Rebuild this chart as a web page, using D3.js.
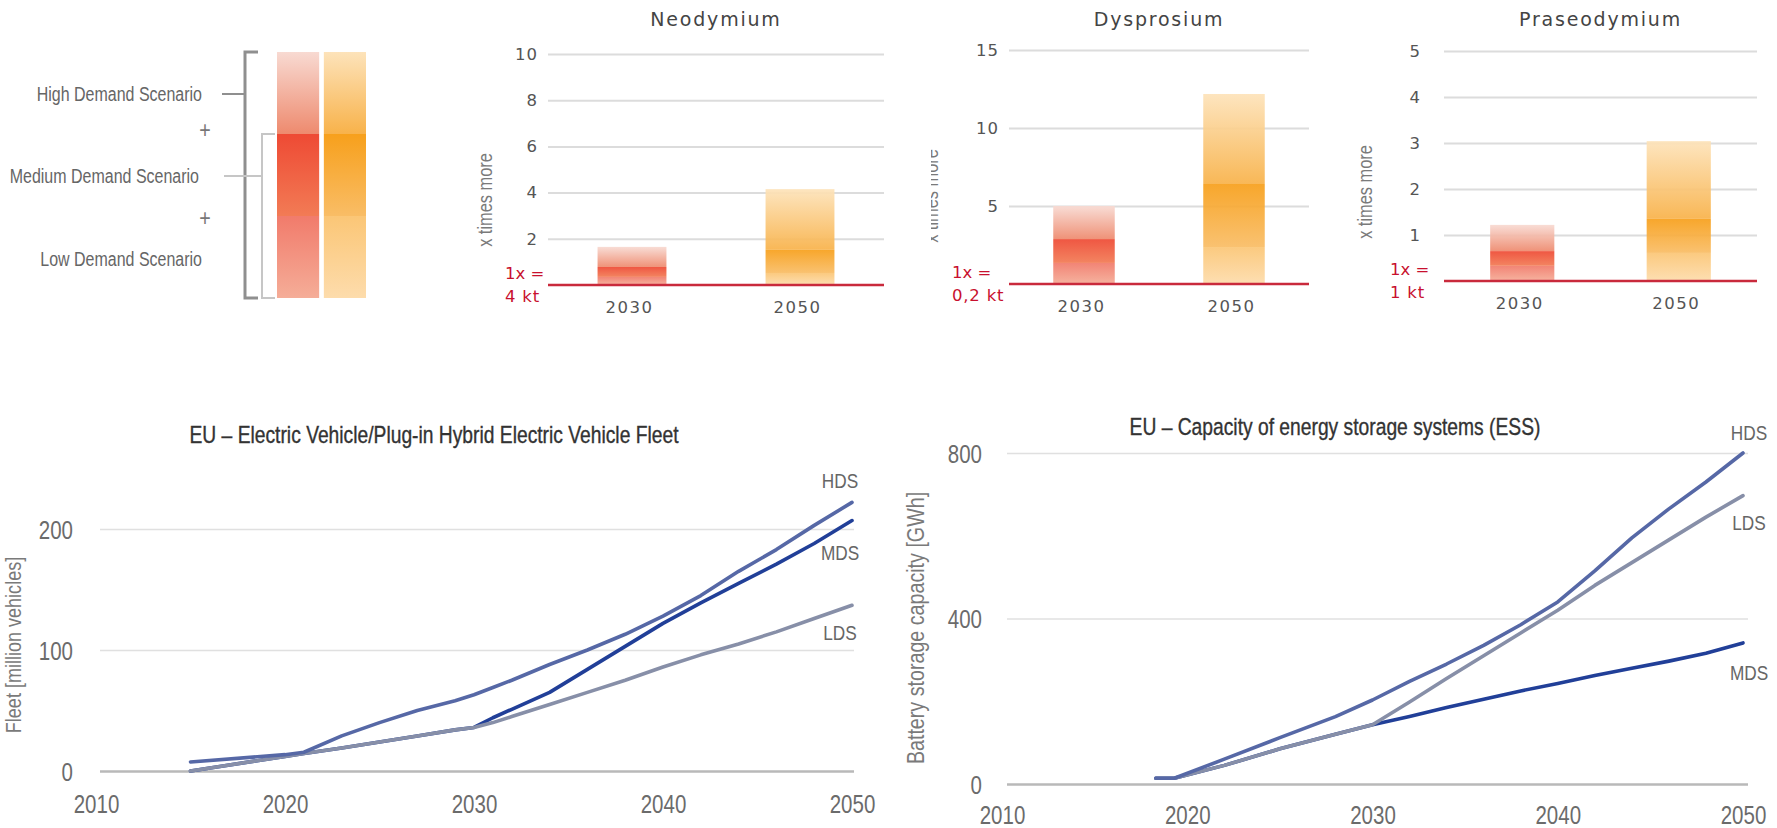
<!DOCTYPE html>
<html>
<head>
<meta charset="utf-8">
<script src="https://cdn.jsdelivr.net/npm/d3@7"></script>
<style>
  body { margin: 0; background: #fff; }
  svg { display: block; }
  .narrow { font-family: "Liberation Sans", Arial, sans-serif; }
  .wide { font-family: "DejaVu Sans", Verdana, sans-serif; }
</style>
</head>
<body>
<svg id="chart" width="1777" height="828"></svg>
<script>
const svg = d3.select('#chart');

// ---- data: rare earth demand bars ----
const scenarioLabels = ['High Demand Scenario', 'Medium Demand Scenario', 'Low Demand Scenario'];
const barYears = ['2030', '2050'];
const metals = ['Neodymium', 'Dysprosium', 'Praseodymium'];
const metalMax = [10, 15, 5];
const metalTicks = [[2, 4, 6, 8, 10], [5, 10, 15], [1, 2, 3, 4, 5]];
const metalBase = ['4 kt', '0,2 kt', '1 kt'];
// cumulative top of each scenario band, per metal: [2030, 2050]
const lowTop = [[0.35, 0.52], [1.35, 2.37], [0.33, 0.61]];
const medTop = [[0.78, 1.52], [2.88, 6.41], [0.65, 1.35]];
const highTop = [[1.65, 4.15], [5.0, 12.18], [1.22, 3.04]];

// ---- data: EV fleet (million vehicles) ----
const evYears = [2015, 2020, 2021, 2023, 2025, 2027, 2029, 2030, 2031, 2032, 2034, 2036, 2038, 2040, 2042, 2044, 2046, 2048, 2050];
const evHDS = [7.5, 13.5, 15.5, 29, 40, 50, 58, 63, 69, 75, 88, 100, 113, 128, 145, 165, 183, 203, 222];
const evMDS = [0, 12, 14.5, 19, 24, 29, 34, 36, 44, 51, 65, 84, 103, 122, 139, 155, 171, 188, 207];
const evLDS = [0, 12, 14.5, 19, 24, 29, 34, 36, 40, 45, 55, 65, 75, 86, 96, 105, 115, 126, 137];

// ---- data: energy storage capacity (GWh) ----
const essYears = [2018.3, 2019.3, 2022, 2025, 2028, 2030, 2032, 2034, 2036, 2038, 2040, 2042, 2044, 2046, 2048, 2050];
const essHDS = [14, 14, 60, 112, 163, 203, 248, 290, 335, 385, 440, 515, 595, 665, 730, 800];
const essMDS = [14, 14, 45, 85, 120, 143, 163, 185, 205, 225, 243, 262, 280, 297, 316, 341];
const essLDS = [14, 14, 45, 85, 120, 143, 198, 255, 310, 365, 420, 480, 535, 590, 645, 697];

const decadeTicks = [2010, 2020, 2030, 2040, 2050];

// narrow look: Liberation Sans squeezed to Arial Narrow proportions
const SQUEEZE = 0.82;
function ntext(parent, x, y, str, size, fill, anchor, rotate) {
  return parent.append('text').attr('class', 'narrow')
    .attr('transform', `translate(${x},${y})` + (rotate ? ` rotate(${rotate})` : '') + ` scale(${SQUEEZE},1)`)
    .attr('text-anchor', anchor || 'start')
    .attr('font-size', size).attr('fill', fill)
    .text(str);
}
// squeeze the labels an axis has made
function squeezeAxisText(sel) {
  sel.each(function () {
    const t = d3.select(this);
    const x = +t.attr('x') || 0, y = +t.attr('y') || 0;
    t.attr('class', 'narrow').attr('x', 0).attr('y', 0)
      .attr('transform', `translate(${x},${y}) scale(${SQUEEZE},1)`);
  });
}

// ---- gradients ----
const defs = svg.append('defs');
const gradients = {
  redHigh: ['#f8dad2', '#ee8a6e'],
  redMed: ['#ee4a34', '#f27b55'],
  redLow: ['#f17b6b', '#f5ad98'],
  orHigh: ['#fde3ba', '#f8b24a'],
  orMed: ['#f7a01c', '#f9bd66'],
  orLow: ['#fbc676', '#fddcac']
};
Object.entries(gradients).forEach(([id, c]) => {
  const g = defs.append('linearGradient').attr('id', id)
    .attr('x1', 0).attr('y1', 0).attr('x2', 0).attr('y2', 1);
  g.append('stop').attr('offset', '0%').attr('stop-color', c[0]);
  g.append('stop').attr('offset', '100%').attr('stop-color', c[1]);
});
const colourSets = [['redLow', 'redMed', 'redHigh'], ['orLow', 'orMed', 'orHigh']];

// ---- legend ----
const legend = svg.append('g');
const legendY = d3.scaleLinear().domain([0, 3]).range([298, 52]);
const legendX = d3.scaleBand().domain(barYears).range([277, 366]).paddingInner(0.1);

colourSets.forEach((set, i) => {
  set.forEach((grad, s) => {
    legend.append('rect')
      .attr('x', legendX(barYears[i]))
      .attr('width', legendX.bandwidth())
      .attr('y', legendY(s + 1))
      .attr('height', legendY(s) - legendY(s + 1))
      .attr('fill', `url(#${grad})`);
  });
});

// brackets
legend.append('path')
  .attr('d', `M258,${legendY(3)} H245 V${legendY(0)} H258`)
  .attr('fill', 'none').attr('stroke', '#8f8f8f').attr('stroke-width', 3);
legend.append('path')
  .attr('d', `M275,${legendY(2)} H262 V${legendY(0)} H275`)
  .attr('fill', 'none').attr('stroke', '#c6c6c6').attr('stroke-width', 2);
legend.append('line').attr('x1', 222).attr('x2', 245).attr('y1', 94).attr('y2', 94)
  .attr('stroke', '#8f8f8f').attr('stroke-width', 2);
legend.append('line').attr('x1', 224).attr('x2', 262).attr('y1', 176).attr('y2', 176)
  .attr('stroke', '#c6c6c6').attr('stroke-width', 2);

const legendTextY = [94, 176, 259];
scenarioLabels.forEach((label, i) => {
  ntext(legend, i === 1 ? 199 : 202, legendTextY[i] + 6.8, label, 19.5, '#666', 'end');
});
[130, 218].forEach(y => {
  ntext(legend, 205, y + 8, '+', 24, '#777', 'middle');
});

// ---- metal bar panels ----
const barPanels = [
  { left: 548, right: 884, bottom: 285, top: 54, tickEnd: 538, baseX: 505, axisX: 492, axisY: 200, clip: false },
  { left: 1009, right: 1309, bottom: 284, top: 50, tickEnd: 999, baseX: 952, axisX: 938, axisY: 196, clip: true },
  { left: 1444, right: 1757, bottom: 281, top: 51, tickEnd: 1421, baseX: 1390, axisX: 1372, axisY: 192, clip: false }
];

metals.forEach((metal, m) => {
  const p = barPanels[m];
  const g = svg.append('g');
  const y = d3.scaleLinear().domain([0, metalMax[m]]).range([p.bottom, p.top]);
  const x = d3.scalePoint().domain(barYears).range([p.left, p.right]).padding(0.5);
  const barW = x.step() * 0.41;

  // gridlines + tick labels
  const yAxis = d3.axisLeft(y).tickValues(metalTicks[m]).tickFormat(d3.format('d'))
    .tickSize(-(p.right - p.left)).tickPadding(p.left - p.tickEnd);
  const ga = g.append('g').attr('transform', `translate(${p.left},0)`).call(yAxis);
  ga.select('.domain').remove();
  ga.selectAll('line').attr('stroke', '#dcdcdc').attr('stroke-width', 2);
  ga.selectAll('text').attr('class', 'wide').attr('font-size', 16.5)
    .attr('letter-spacing', 1).attr('fill', '#555');

  // stacked scenario bands
  barYears.forEach((yr, i) => {
    const bounds = [0, lowTop[m][i], medTop[m][i], highTop[m][i]];
    colourSets[i].forEach((grad, s) => {
      g.append('rect')
        .attr('x', x(yr) - barW / 2).attr('width', barW)
        .attr('y', y(bounds[s + 1]))
        .attr('height', y(bounds[s]) - y(bounds[s + 1]))
        .attr('fill', `url(#${grad})`)
        .attr('opacity', 0.93);
    });
  });

  // red baseline
  g.append('line').attr('x1', p.left).attr('x2', p.right)
    .attr('y1', y(0)).attr('y2', y(0))
    .attr('stroke', '#c92a3c').attr('stroke-width', 2.5);

  // x labels
  const xAxis = d3.axisBottom(x).tickSize(0).tickPadding(0);
  const gx = g.append('g').attr('transform', `translate(-3,${p.bottom + 22})`).call(xAxis);
  gx.select('.domain').remove();
  gx.selectAll('text').attr('class', 'wide').attr('font-size', 16.5)
    .attr('letter-spacing', 1.5).attr('fill', '#555').attr('dy', '0.35em');

  // title
  g.append('text').attr('class', 'wide')
    .attr('x', (p.left + p.right) / 2).attr('y', 26)
    .attr('text-anchor', 'middle').attr('font-size', 19).attr('letter-spacing', 1.8)
    .attr('fill', '#444').text(metal);

  // 1x = base amount
  g.append('text').attr('class', 'wide').attr('x', p.baseX).attr('y', p.bottom - 12)
    .attr('dy', '0.35em').attr('font-size', 16.5).attr('fill', '#c8102e').text('1x =');
  g.append('text').attr('class', 'wide').attr('x', p.baseX).attr('y', p.bottom + 11)
    .attr('dy', '0.35em').attr('font-size', 16.5).attr('letter-spacing', 0.8)
    .attr('fill', '#c8102e').text(metalBase[m]);

  // axis title (the Dysprosium one is cut in the source)
  const holder = g.append('g');
  ntext(holder, p.axisX, p.axisY, 'x times more', 20, '#7a7a7a', 'middle', -90);
  if (p.clip) {
    defs.append('clipPath').attr('id', 'dyClip')
      .append('rect').attr('x', p.axisX - 7).attr('y', 0).attr('width', 40).attr('height', 400);
    holder.attr('clip-path', 'url(#dyClip)');
  }
});

// ---- line charts ----
const lineColours = { HDS: '#5668a6', MDS: '#213f98', LDS: '#878fa8' };

const linePanels = [
  {
    title: 'EU – Electric Vehicle/Plug-in Hybrid Electric Vehicle Fleet',
    yTitle: 'Fleet [million vehicles]', yTitleSize: 22,
    years: evYears, series: { MDS: evMDS, LDS: evLDS, HDS: evHDS },
    yMax: 200, yTicks: [0, 100, 200],
    xRange: [96, 852], yRange: [771, 529], gridL: 100, gridR: 854, tickEnd: 73,
    xLabelY: 813, titleX: 434, titleY: 443, yTitleX: 21, yTitleY: 645,
    labelX: 840, labelY: { HDS: 480, MDS: 552, LDS: 632 }
  },
  {
    title: 'EU – Capacity of energy storage systems (ESS)',
    yTitle: 'Battery storage capacity [GWh]', yTitleSize: 24,
    years: essYears, series: { MDS: essMDS, LDS: essLDS, HDS: essHDS },
    yMax: 800, yTicks: [0, 400, 800],
    xRange: [1002, 1743], yRange: [784, 453], gridL: 1007, gridR: 1748, tickEnd: 982,
    xLabelY: 824, titleX: 1335, titleY: 435, yTitleX: 924, yTitleY: 628,
    labelX: 1749, labelY: { HDS: 432, LDS: 522, MDS: 672 }
  }
];

linePanels.forEach(p => {
  const g = svg.append('g');
  const x = d3.scaleLinear().domain([2010, 2050]).range(p.xRange);
  const y = d3.scaleLinear().domain([0, p.yMax]).range(p.yRange);

  const yAxis = d3.axisLeft(y).tickValues(p.yTicks)
    .tickSize(-(p.gridR - p.gridL)).tickPadding(p.gridL - p.tickEnd);
  const ga = g.append('g').attr('transform', `translate(${p.gridL},0)`).call(yAxis);
  ga.select('.domain').remove();
  ga.selectAll('line')
    .attr('stroke', d => d === 0 ? '#b9b9b9' : '#e0e0e0')
    .attr('stroke-width', d => d === 0 ? 2.5 : 1.5);
  ga.selectAll('text').attr('font-size', 25).attr('fill', '#6b6b6b').attr('dy', '0.36em')
    .call(squeezeAxisText);

  const xAxis = d3.axisBottom(x).tickValues(decadeTicks).tickFormat(d3.format('d')).tickSize(0);
  const gx = g.append('g').call(xAxis);
  gx.select('.domain').remove();
  gx.selectAll('text').attr('font-size', 25).attr('fill', '#6b6b6b')
    .attr('y', p.xLabelY).attr('dy', 0)
    .call(squeezeAxisText);

  const line = d3.line().x((d, i) => x(p.years[i])).y(d => y(d));
  Object.entries(p.series).forEach(([name, vals]) => {
    g.append('path').datum(vals)
      .attr('d', line).attr('fill', 'none')
      .attr('stroke', lineColours[name]).attr('stroke-width', 3.6)
      .attr('stroke-linejoin', 'round').attr('stroke-linecap', 'round');
    ntext(g, p.labelX, p.labelY[name] + 7.5, name, 21, '#666', 'middle');
  });

  ntext(g, p.titleX, p.titleY, p.title, 23.5, '#333', 'middle')
    .attr('stroke', '#333').attr('stroke-width', 0.35);
  ntext(g, p.yTitleX, p.yTitleY, p.yTitle, p.yTitleSize, '#7a7a7a', 'middle', -90);
});
</script>
</body>
</html>
